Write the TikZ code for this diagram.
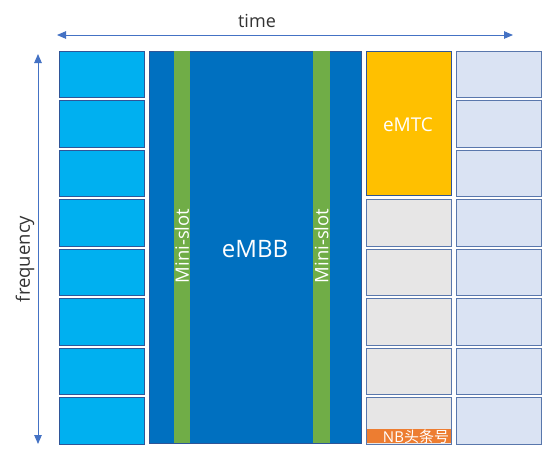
\documentclass[tikz,border=0pt]{standalone}
\usepackage{fontspec}
\setmainfont{Open Sans}
\newfontfamily\cjkfont{Noto Sans CJK SC}
\usetikzlibrary{arrows.meta}
\definecolor{lblue}{HTML}{00B0F0}
\definecolor{dblue}{HTML}{0070C0}
\definecolor{mgreen}{HTML}{70AD47}
\definecolor{myellow}{HTML}{FFC000}
\definecolor{mgray}{HTML}{E7E6E6}
\definecolor{pblue}{HTML}{DAE3F3}
\definecolor{morange}{HTML}{ED7D31}
\definecolor{edge}{HTML}{2F5597}
\definecolor{arr}{HTML}{4472C4}
\begin{document}
\begin{tikzpicture}[x=1pt,y=-1pt,
  cellbox/.style={draw=edge, line width=0.9pt},
  axisarrow/.style={draw=arr, line width=0.9pt, {Triangle[length=9pt,width=7.5pt]}-{Triangle[length=9pt,width=7.5pt]}},
  lbl/.style={text=white, inner sep=0pt}]
\useasboundingbox[fill=white] (0,0) rectangle (550,456);
% axes
\coordinate (tl) at (57,35);
\coordinate (tr) at (513,35);
\draw[axisarrow] (tl) -- (tr);
\node[font=\fontsize{18}{20}\selectfont, text=black!80] (time) at (257,21) {time};
\coordinate (ft) at (38,54);
\coordinate (fb) at (38,444);
\draw[axisarrow] (ft) -- (fb);
\node[font=\fontsize{18.5}{20}\selectfont, text=black!80, rotate=90] (freq) at (25,259) {frequency};
% column 1 and column 4
\foreach \i in {0,...,7}{
  \pgfmathsetmacro{\t}{51+\i*49.5}
  \pgfmathsetmacro{\b}{\t+46.5}
  \draw[cellbox, fill=lblue] (59,\t) rectangle (144,\b);
  \draw[cellbox, draw=edge!80, fill=pblue] (456,\t) rectangle (541,\b);
}
% column 3
\draw[cellbox, fill=myellow] (366,51) rectangle (451,195.5);
\foreach \i in {3,...,7}{
  \pgfmathsetmacro{\t}{51+\i*49.5}
  \pgfmathsetmacro{\b}{\t+46.5}
  \draw[cellbox, draw=edge!80, fill=mgray] (366,\t) rectangle (451,\b);
}
\fill[morange] (366.5,429) rectangle (450.5,443);
\node[lbl, font=\fontsize{19}{21}\selectfont] (emtc) at (408,125) {eMTC};
\node[lbl, font=\fontsize{15}{16}\selectfont] (nb) at (416,437) {NB{\cjkfont 头条号}};
% eMBB
\draw[draw=edge, line width=0.6pt, fill=dblue] (149,51) rectangle (361,443);
\fill[mgreen] (174,51) rectangle (190,443);
\fill[mgreen] (313,51) rectangle (329.5,443);
\node[lbl, font=\fontsize{18.5}{20}\selectfont, rotate=90] (ms1) at (182,246) {Mini-slot};
\node[lbl, font=\fontsize{18.5}{20}\selectfont, rotate=90] (ms2) at (321.5,246) {Mini-slot};
\node[lbl, font=\fontsize{24}{26}\selectfont] (embb) at (255,249) {eMBB};
\end{tikzpicture}
\end{document}
